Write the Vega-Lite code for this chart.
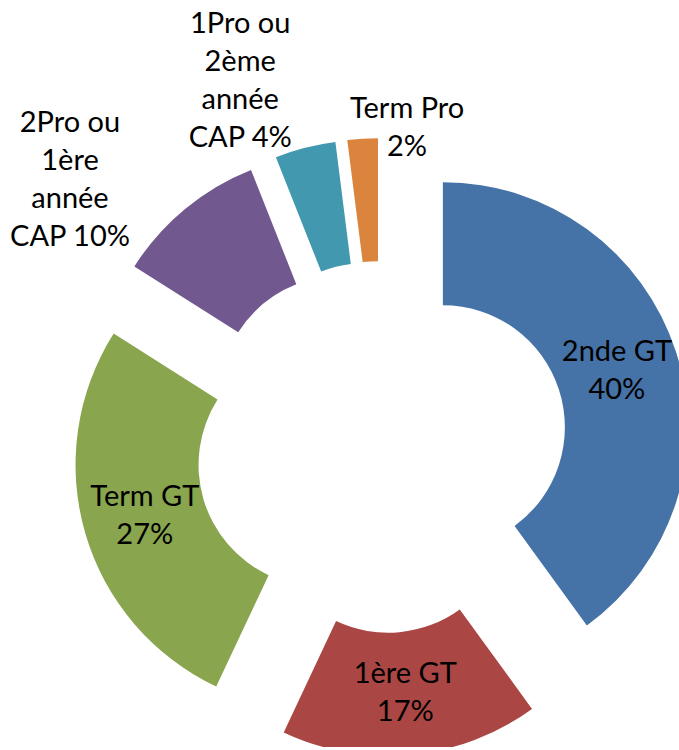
{
  "$schema": "https://vega.github.io/schema/vega-lite/v6.json",
  "width": 600,
  "height": 600,
  "autosize": {"type": "none"},
  "padding": {"left": 82, "top": 147, "right": 0, "bottom": 0},
  "background": "white",
  "config": {"view": {"stroke": null}},
  "data": {
    "values": [
      {"cat": "2nde GT", "share": 40, "label": "2nde GT\n40%"},
      {"cat": "1ère GT", "share": 17, "label": "1ère GT\n17%"},
      {"cat": "Term GT", "share": 27, "label": "Term GT\n27%"},
      {"cat": "2Pro ou 1ère année CAP", "share": 10, "label": "2Pro ou\n1ère\nannée\nCAP 10%"},
      {"cat": "1Pro ou 2ème année CAP", "share": 4, "label": "1Pro ou\n2ème\nannée\nCAP 4%"},
      {"cat": "Term Pro", "share": 2, "label": "Term Pro\n2%"}
    ]
  },
  "transform": [{"window": [{"op": "row_number", "as": "ord"}]}],
  "encoding": {
    "theta": {"field": "share", "type": "quantitative", "stack": true},
    "order": {"field": "ord", "type": "quantitative"}
  },
  "layer": [
    {
      "mark": {
        "type": "arc",
        "outerRadius": 245,
        "innerRadius": 122,
        "xOffset": {"expr": "64*sin((scale('theta', datum.share_start)+scale('theta', datum.share_end))/2)"},
        "yOffset": {"expr": "-64*cos((scale('theta', datum.share_start)+scale('theta', datum.share_end))/2)"}
      },
      "encoding": {
        "color": {
          "field": "cat",
          "type": "nominal",
          "legend": null,
          "scale": {
            "domain": ["2nde GT", "1ère GT", "Term GT", "2Pro ou 1ère année CAP", "1Pro ou 2ème année CAP", "Term Pro"],
            "range": ["#4572A7", "#AA4643", "#89A54E", "#71588F", "#4198AF", "#DB843D"]
          }
        }
      }
    },
    {
      "mark": {
        "type": "text", "radius": 183, "dy": -19, "font": "Lato", "fontSize": 29, "lineHeight": 38, "lineBreak": "\n",
        "align": "center", "baseline": "middle", "color": "black",
        "xOffset": {"expr": "64*sin((scale('theta', datum.share_start)+scale('theta', datum.share_end))/2)"},
        "yOffset": {"expr": "-64*cos((scale('theta', datum.share_start)+scale('theta', datum.share_end))/2)"}
      },
      "encoding": {
        "text": {"condition": {"test": "datum.ord <= 3", "field": "label"}, "value": ""}
      }
    },
    {
      "mark": {
        "type": "text", "radius": 348, "thetaOffset": -0.2025, "dy": -57, "font": "Lato", "fontSize": 29, "lineHeight": 38, "lineBreak": "\n",
        "align": "center", "baseline": "middle", "color": "black",
        "xOffset": {"expr": "64*sin((scale('theta', datum.share_start)+scale('theta', datum.share_end))/2)"},
        "yOffset": {"expr": "-64*cos((scale('theta', datum.share_start)+scale('theta', datum.share_end))/2)"}
      },
      "encoding": {
        "text": {"condition": {"test": "datum.ord == 4", "field": "label"}, "value": ""}
      }
    },
    {
      "mark": {
        "type": "text", "radius": 329, "thetaOffset": -0.1414, "dy": -57, "font": "Lato", "fontSize": 29, "lineHeight": 38, "lineBreak": "\n",
        "align": "center", "baseline": "middle", "color": "black",
        "xOffset": {"expr": "64*sin((scale('theta', datum.share_start)+scale('theta', datum.share_end))/2)"},
        "yOffset": {"expr": "-64*cos((scale('theta', datum.share_start)+scale('theta', datum.share_end))/2)"}
      },
      "encoding": {
        "text": {"condition": {"test": "datum.ord == 5", "field": "label"}, "value": ""}
      }
    },
    {
      "mark": {
        "type": "text", "radius": 257, "thetaOffset": 0.1763, "dy": -19, "font": "Lato", "fontSize": 29, "lineHeight": 38, "lineBreak": "\n",
        "align": "center", "baseline": "middle", "color": "black",
        "xOffset": {"expr": "64*sin((scale('theta', datum.share_start)+scale('theta', datum.share_end))/2)"},
        "yOffset": {"expr": "-64*cos((scale('theta', datum.share_start)+scale('theta', datum.share_end))/2)"}
      },
      "encoding": {
        "text": {"condition": {"test": "datum.ord == 6", "field": "label"}, "value": ""}
      }
    }
  ]
}
